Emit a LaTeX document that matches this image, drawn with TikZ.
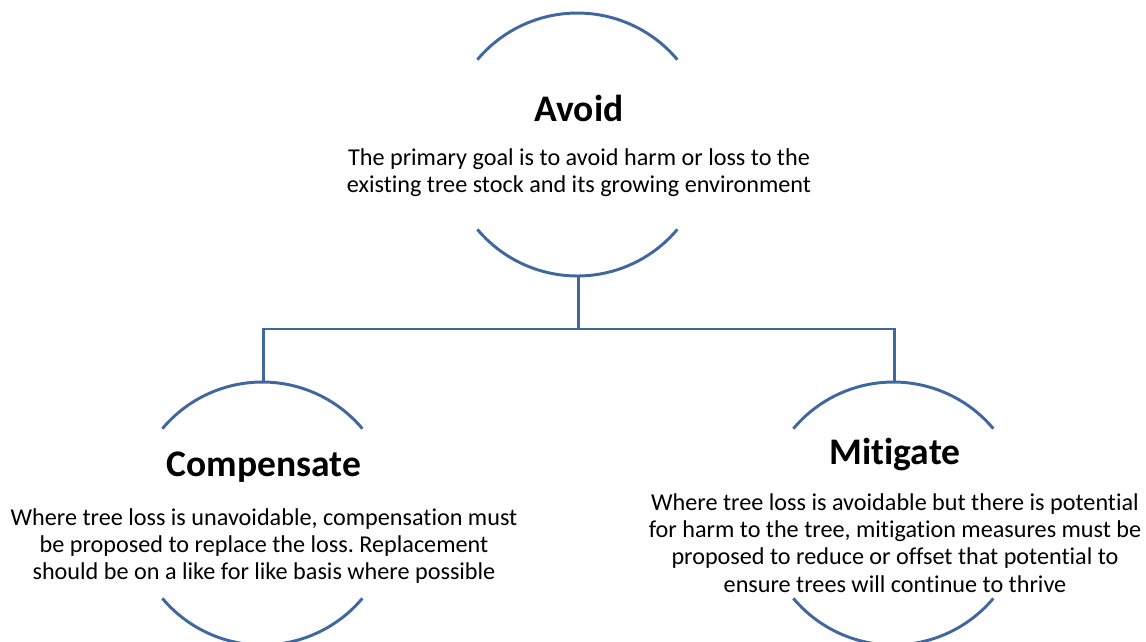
\documentclass[tikz,border=0pt]{standalone}
\usepackage{fontspec}
\setmainfont{Carlito}[Ligatures={NoCommon}]
\usepackage{tikz}
\frenchspacing

\definecolor{arcblue}{RGB}{64,104,158}

\begin{document}
\begin{tikzpicture}[x=0.025cm, y=-0.025cm,
		every path/.style={draw=arcblue, line width=2.1pt},
		ring/.style={circle, draw=none, inner sep=0pt, minimum size=6.525cm},
		title/.style={draw=none, font=\fontsize{26.7}{32}\selectfont\bfseries},
		body/.style={draw=none, align=center, font=\fontsize{17.2}{19.3}\selectfont}]
				\useasboundingbox[draw=none] (0,0) rectangle (1146,641);
				
				\node[ring] (avoid) at (578.5,144.5){};
				\node[ring] (comp) at (263.5,513.5){};
				\node[ring] (miti) at (894.5,513.5){};
				
				\node[title] (avoidtitle) at (579,108) {Avoid};
				\node[body] (avoidtext) at (579,173) {The primary goal is to avoid harm or loss to the\\existing tree stock and its growing environment};
				
				\node[title] (comptitle) at (264,467) {Compensate};
				\node[body] (comptext) at (264,546) {Where tree loss is unavoidable, compensation must\\be proposed to replace the loss. Replacement\\should be on a like for like basis where possible};
				
				\node[title] (mititle) at (895,454) {Mitigate};
				\node[body] (mitext) at (895,543) {Where tree loss is avoidable but there is potential\\for harm to the tree, mitigation measures must be\\proposed to reduce or offset that potential to\\ensure trees will continue to thrive};
				
				\draw (avoid.140) arc[start angle=140, end angle=40, radius=3.2625cm];
				\draw (avoid.220) arc[start angle=220, end angle=320, radius=3.2625cm];
				\draw (comp.140) arc[start angle=140, end angle=40, radius=3.2625cm];
				\draw (comp.220) arc[start angle=220, end angle=320, radius=3.2625cm];
				\draw (miti.140) arc[start angle=140, end angle=40, radius=3.2625cm];
				\draw (miti.220) arc[start angle=220, end angle=320, radius=3.2625cm];
				
				\coordinate (bus) at (avoid.south |- 0,329);
				\path (avoid.south) edge (bus);
				\draw (comp.north) |- (bus) -| (miti.north);
				\end{tikzpicture}
\end{document}
